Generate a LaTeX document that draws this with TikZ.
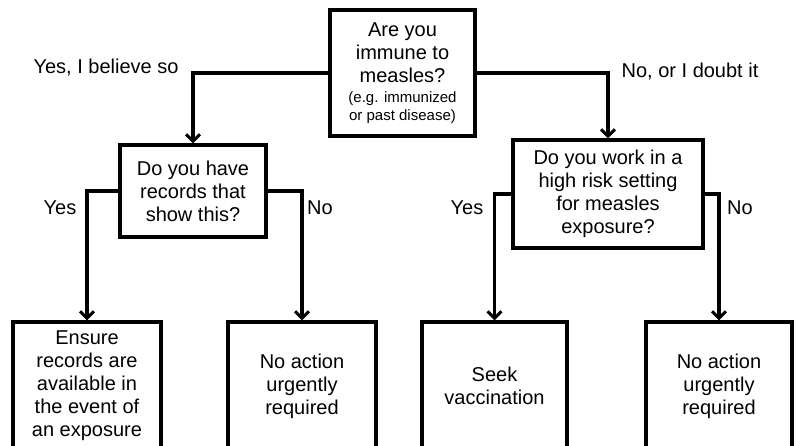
\documentclass[tikz,border=0pt]{standalone}
\usepackage{fontspec}
\setmainfont{Liberation Sans}
\usetikzlibrary{arrows.meta}
\begin{document}
\begin{tikzpicture}[x=1pt,y=-1pt,
  box/.style={draw, line width=3.2pt, rectangle, inner sep=0pt, align=center,
    font=\fontsize{20}{23}\selectfont},
  conn/.style={line width=3.2pt, -{Straight Barb[length=7pt,width=14pt,line width=3pt]}},
  lbl/.style={font=\fontsize{20}{23}\selectfont, inner sep=0pt}]
\useasboundingbox (0,0) rectangle (796,446);
\clip (0,0) rectangle (796,446);
\fill[white] (0,0) rectangle (796,446);

\node[box, minimum width=145pt, minimum height=126pt] (top) at (402.5,73)
  {Are you\\immune to\\measles?\\[-3pt]\fontsize{15}{18}\selectfont(e.g. immunized\\[-5pt]\fontsize{15}{18}\selectfont or past disease)};
\node[box, minimum width=146pt, minimum height=92pt] (b2) at (193,191)
  {Do you have\\records that\\show this?};
\node[box, minimum width=190pt, minimum height=108pt] (b3) at (608,194)
  {Do you work in a\\high risk setting\\for measles\\exposure?};
\node[box, minimum width=148pt, minimum height=128pt] (b4) at (87,386)
  {Ensure\\records are\\available in\\the event of\\an exposure};
\node[box, minimum width=148pt, minimum height=128pt] (b5) at (302,386)
  {No action\\urgently\\required};
\node[box, minimum width=145pt, minimum height=128pt] (b6) at (494.5,386)
  {Seek\\vaccination};
\node[box, minimum width=146pt, minimum height=128pt] (b7) at (719,386)
  {No action\\urgently\\required};

\draw[conn] (top.west) -| (b2.north);
\draw[conn] (top.east) -| (b3.north);
\draw[conn] (b2.west) -| (b4.north);
\draw[conn] (b2.east) -| (b5.north);
\draw[conn] (b3.west) -| (b6.north);
\draw[conn] (b3.east) -| (b7.north);

\node[lbl] (l1) at (106,68) {Yes, I believe so};
\node[lbl] (l2) at (690,72) {No, or I doubt it};
\node[lbl] (l3) at (60,208) {Yes};
\node[lbl] (l4) at (320,208) {No};
\node[lbl] (l5) at (467,208) {Yes};
\node[lbl] (l6) at (740,208) {No};
\end{tikzpicture}
\end{document}
